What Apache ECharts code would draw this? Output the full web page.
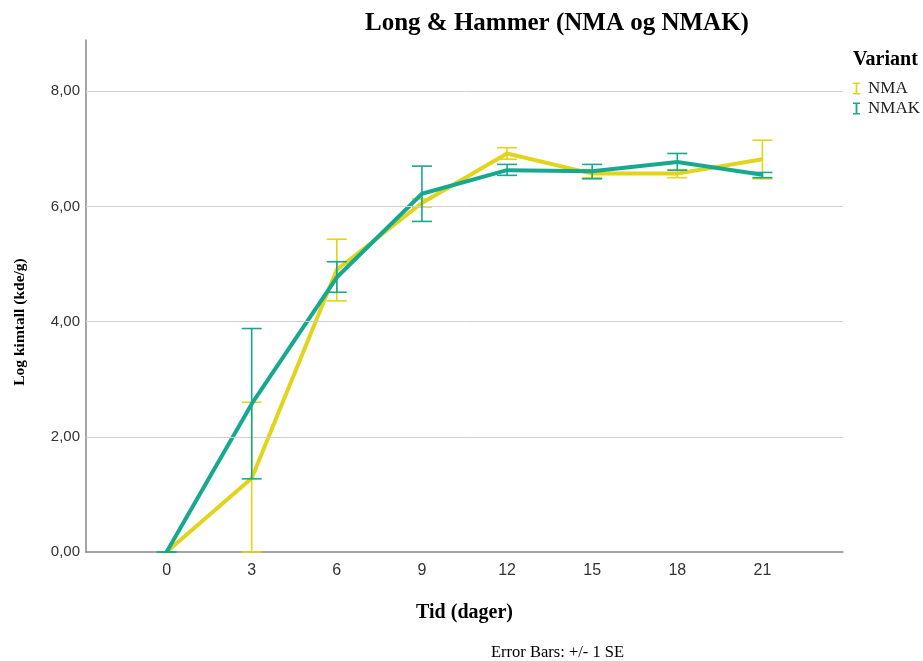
<!DOCTYPE html>
<html>
<head>
<meta charset="utf-8">
<script src="https://cdn.jsdelivr.net/npm/echarts@6/dist/echarts.min.js"></script>
<style>
  html, body { margin: 0; padding: 0; background: #fff; }
  #chart { width: 923px; height: 661px; }
</style>
</head>
<body>
<div id="chart"></div>
<script>
// Sampling days
var days = [0, 3, 6, 9, 12, 15, 18, 21];

// Mean log counts per variant
var nmaMean  = [0, 1.28, 4.90, 6.06, 6.92, 6.57, 6.57, 6.82];
var nmakMean = [0, 2.57, 4.77, 6.22, 6.63, 6.61, 6.77, 6.55];

// Error bar bounds (mean +/- 1 SE)
var nmaLow   = [0, 0.00, 4.36, 5.99, 6.82, 6.50, 6.50, 6.48];
var nmaHigh  = [0, 2.60, 5.43, 6.13, 7.02, 6.64, 6.63, 7.15];
var nmakLow  = [0, 1.27, 4.51, 5.74, 6.54, 6.48, 6.63, 6.50];
var nmakHigh = [0, 3.88, 5.04, 6.70, 6.73, 6.73, 6.92, 6.59];

var yTicks = [0, 2, 4, 6, 8];

var colNMA = '#e1d41b';
var colNMAK = '#17a990';
var serif = '"Liberation Serif", "Times New Roman", serif';
var sans = '"Liberation Sans", Arial, sans-serif';

function pairs(xs, ys) {
  return xs.map(function (x, i) { return [x, ys[i]]; });
}
function errData(lo, hi) {
  return days.map(function (d, i) { return [d, lo[i], hi[i]]; });
}
function errSeries(name, lo, hi, color, z) {
  return {
    name: name,
    type: 'custom',
    z: z,
    renderItem: function (params, api) {
      var x = api.value(0);
      var p1 = api.coord([x, api.value(1)]);
      var p2 = api.coord([x, api.value(2)]);
      var half = 10;
      var style = { stroke: color, lineWidth: 1.6, fill: null };
      return {
        type: 'group',
        children: [
          { type: 'line', shape: { x1: p1[0], y1: p1[1], x2: p2[0], y2: p2[1] }, style: style },
          { type: 'line', shape: { x1: p1[0] - half, y1: p1[1], x2: p1[0] + half, y2: p1[1] }, style: style },
          { type: 'line', shape: { x1: p2[0] - half, y1: p2[1], x2: p2[0] + half, y2: p2[1] }, style: style }
        ]
      };
    },
    encode: { x: 0, y: [1, 2] },
    data: errData(lo, hi),
    silent: true
  };
}

// Horizontal reference lines at the labelled y values
var gridLines = {
  name: 'grid', type: 'line', data: [], z: 1, silent: true,
  markLine: {
    silent: true, symbol: 'none', label: { show: false },
    lineStyle: { color: '#cfcfcf', width: 1, type: 'solid' },
    data: yTicks.filter(function (v) { return v > 0; }).map(function (v) { return { yAxis: v }; })
  }
};

// Error-bar shaped legend marker
var ibeam = 'path://M0,0H7V1.6H4.4V10.4H7V12H0V10.4H2.6V1.6H0Z';

var chart = echarts.init(document.getElementById('chart'), null, { renderer: 'canvas' });
chart.setOption({
  animation: false,
  backgroundColor: '#ffffff',
  title: [
    {
      text: 'Long & Hammer (NMA og NMAK)',
      left: 365, top: 11, padding: 0,
      textStyle: { fontFamily: serif, fontWeight: 'bold', fontSize: 25, color: '#000' }
    },
    {
      text: 'Variant',
      left: 853, top: 50, padding: 0,
      textStyle: { fontFamily: serif, fontWeight: 'bold', fontSize: 20, color: '#000' }
    },
    {
      text: 'Error Bars: +/- 1 SE',
      left: 491, top: 644, padding: 0,
      textStyle: { fontFamily: serif, fontWeight: 'normal', fontSize: 16.5, color: '#000' }
    }
  ],
  legend: {
    orient: 'vertical',
    left: 853, top: 80, padding: 0,
    itemWidth: 7, itemHeight: 12,
    itemGap: 3,
    data: [
      { name: 'NMA', icon: ibeam },
      { name: 'NMAK', icon: ibeam }
    ],
    textStyle: { fontFamily: serif, fontSize: 17, color: '#222', padding: [0, 0, 0, 3] }
  },
  graphic: [
    {
      type: 'text',
      x: 20, y: 322,
      rotation: Math.PI / 2,
      style: {
        text: 'Log kimtall (kde/g)',
        font: 'bold 15.5px ' + serif,
        fill: '#000',
        align: 'center',
        verticalAlign: 'middle'
      }
    }
  ],
  grid: { left: 86, right: 80, top: 40, bottom: 109, containLabel: false },
  xAxis: {
    type: 'value',
    min: -2.84, max: 23.84,
    name: 'Tid (dager)',
    nameLocation: 'middle',
    nameGap: 51,
    nameTextStyle: { fontFamily: serif, fontWeight: 'bold', fontSize: 20, color: '#000' },
    axisLine: { show: true, onZero: false, lineStyle: { color: '#888', width: 1.5 } },
    axisTick: { show: false, customValues: days },
    splitLine: { show: false },
    axisLabel: {
      customValues: days,
      margin: 11,
      fontFamily: sans, fontSize: 16, color: '#333',
      formatter: function (v) { return String(v); }
    }
  },
  yAxis: {
    type: 'value',
    min: 0, max: 8.89,
    interval: 2,
    axisLine: { show: true, onZero: false, lineStyle: { color: '#888', width: 1.5 } },
    axisTick: { show: false, customValues: yTicks },
    splitLine: { show: false },
    axisLabel: {
      customValues: yTicks,
      margin: 6,
      fontFamily: sans, fontSize: 15, color: '#333',
      formatter: function (v) { return v.toFixed(2).replace('.', ','); }
    }
  },
  series: [
    gridLines,
    {
      name: 'NMA', type: 'line', z: 2,
      data: pairs(days, nmaMean),
      showSymbol: false, symbol: 'none',
      lineStyle: { color: colNMA, width: 4 },
      itemStyle: { color: colNMA }
    },
    errSeries('NMA', nmaLow, nmaHigh, colNMA, 3),
    {
      name: 'NMAK', type: 'line', z: 4,
      data: pairs(days, nmakMean),
      showSymbol: false, symbol: 'none',
      lineStyle: { color: colNMAK, width: 4 },
      itemStyle: { color: colNMAK }
    },
    errSeries('NMAK', nmakLow, nmakHigh, colNMAK, 5)
  ]
});
</script>
</body>
</html>
